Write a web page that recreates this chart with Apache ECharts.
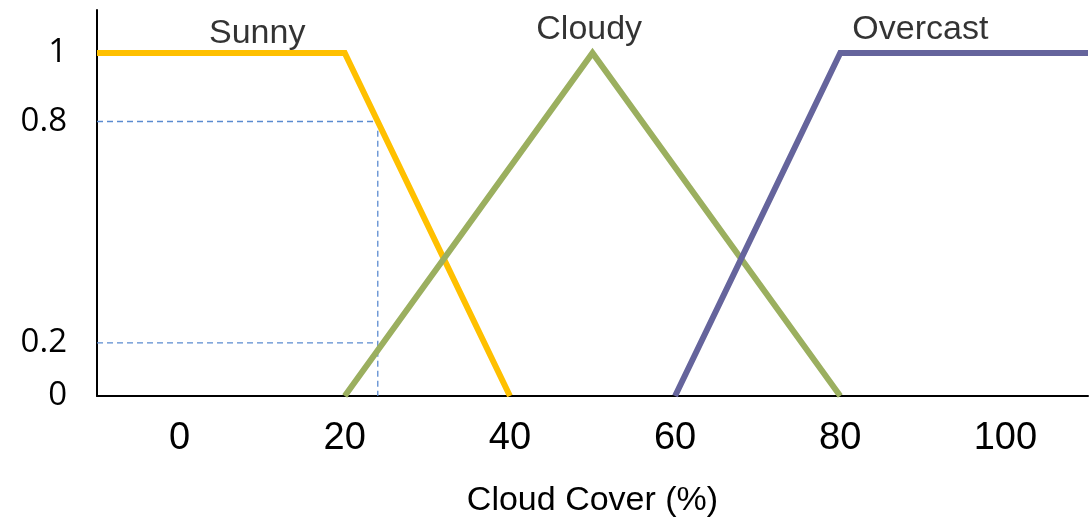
<!DOCTYPE html>
<html><head><meta charset="utf-8">
<script src="https://cdn.jsdelivr.net/npm/echarts@6/dist/echarts.min.js"></script>
<style>html,body{margin:0;padding:0;background:#fff}#c{width:1092px;height:523px}</style>
</head><body><div id="c"></div>
<script>
var sunny = [[-10, 1], [20, 1], [40, 0]];
var cloudy = [[20, 0], [50, 1], [80, 0]];
var overcast = [[60, 0], [80, 1], [110, 1]];
var guideHigh = [[-10, 0.8], [24, 0.8], [24, 0]];
var guideLow = [[-10, 0.155], [24, 0.155]];
var xTicks = [0, 20, 40, 60, 80, 100];
var yTickValues = [0, 0.155, 0.8, 1];
var yTickLabels = ['0', '0.2', '0.8', '1'];
var setNames = ['Sunny', 'Cloudy', 'Overcast'];
var namePoints = [[9.4, 1.055], [49.6, 1.068], [89.7, 1.068]];

var chart = echarts.init(document.getElementById('c'));
var fam = 'Liberation Sans, Arial, sans-serif';
function line(data, color, w, dash) {
  return {type: 'line', data: data, symbol: 'none', silent: true, animation: false,
    lineStyle: {color: color, width: w, type: dash || 'solid', cap: 'butt', join: 'miter'}};
}
chart.setOption({
  animation: false,
  grid: {left: 97, right: 4, top: 10, bottom: 127},
  xAxis: {type: 'value', min: -10, max: 110,
    name: 'Cloud Cover (%)', nameLocation: 'middle', nameGap: 88,
    nameTextStyle: {fontFamily: fam, fontSize: 34, color: '#000'},
    axisLine: {show: true, lineStyle: {color: '#000', width: 2}},
    axisTick: {show: false}, splitLine: {show: false},
    axisLabel: {customValues: xTicks, fontFamily: fam, fontSize: 38, color: '#000', margin: 24}},
  yAxis: {type: 'value', min: 0, max: 1.125,
    axisLine: {show: true, onZero: false, lineStyle: {color: '#000', width: 2}},
    axisTick: {show: false}, splitLine: {show: false},
    axisLabel: {customValues: yTickValues, fontFamily: 'Open Sans, sans-serif', fontSize: 33, color: '#000', margin: 30,
      formatter: function (v) {
        var i = yTickValues.indexOf(v);
        return i >= 0 ? yTickLabels[i] : '';
      }}},
  series: [
    line(guideHigh, '#5B8BD0', 1.3, [6, 4]),
    line(guideLow, '#5B8BD0', 1.3, [6, 4]),
    line(sunny, '#FFC000', 6),
    line(cloudy, '#9BAF5F', 6),
    line(overcast, '#65649C', 6),
    {type: 'scatter', symbolSize: 0, silent: true, animation: false,
      data: namePoints.map(function (p, i) { return {value: p, name: setNames[i]}; }),
      label: {show: true, position: 'inside', formatter: '{b}', fontFamily: fam, fontSize: 34, color: '#000'}}
  ]
});
</script></body></html>
